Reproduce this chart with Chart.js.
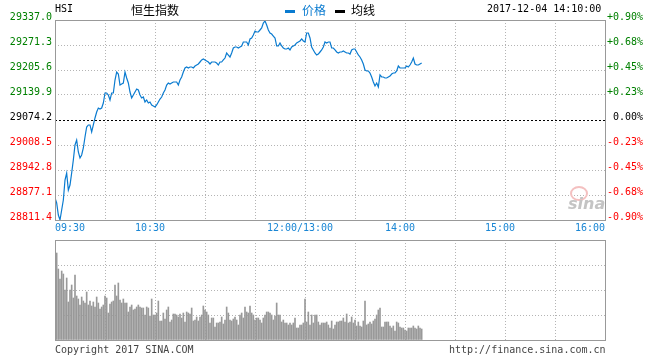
<!DOCTYPE html>
<html>
<head>
<meta charset="utf-8">
<script src="https://cdn.jsdelivr.net/npm/chart.js@4.4.1/dist/chart.umd.min.js"></script>
<style>
body{margin:0;background:#fff;}
#box{position:relative;width:660px;height:360px;overflow:hidden;font-family:"DejaVu Sans Mono",monospace;font-size:10px;color:#000;}
.t{position:absolute;white-space:nowrap;line-height:12px;}
.cn{font-family:"Noto Sans CJK SC",sans-serif;font-size:12px;line-height:14px;}
canvas{position:absolute;left:0;}
</style>
</head>
<body>
<div id="box">
  <canvas id="chart1" width="660" height="240" style="top:0"></canvas>
  <canvas id="chart2" width="660" height="130" style="top:230px"></canvas>

  <div class="t" style="left:55px;top:3px">HSI</div>
  <div class="t cn" style="left:131px;top:3px">恒生指数</div>
  <div style="position:absolute;left:285px;top:10px;width:10px;height:3px;background:#0a7bd0"></div>
  <div class="t cn" style="left:302px;top:3px;color:#0a7bd0">价格</div>
  <div style="position:absolute;left:335px;top:10px;width:10px;height:3px;background:#000"></div>
  <div class="t cn" style="left:351px;top:3px">均线</div>
  <div class="t" style="left:487px;top:3px">2017-12-04 14:10:00</div>

  <div class="t" style="left:570px;top:186px;width:14px;height:11px;border:2px solid #f4c0c0;border-radius:50%;"></div>
  <div class="t" style="left:568px;top:196px;font:italic bold 16px 'DejaVu Sans',sans-serif;color:#c4c4c4;line-height:16px">sina</div>

  <div class="t" style="left:55px;top:344px;color:#444">Copyright 2017 SINA.COM</div>
  <div class="t" style="left:449px;top:344px;color:#444">http://finance.sina.com.cn</div>
</div>

<script>
// 昨收
const prevClose = 29074.2;

// 分钟序号: 0 = 09:30, 150 = 12:00/13:00, 330 = 16:00
const xTickMinutes = [0, 60, 150, 210, 270, 330];
const xTickLabels = ["09:30", "10:30", "12:00/13:00", "14:00", "15:00", "16:00"];

const priceTicks = [28811.4, 28877.1, 28942.8, 29008.5, 29074.2, 29139.9, 29205.6, 29271.3, 29337.0];

// 每分钟价格 09:30 - 14:10
const prices = [
28869.2,28856.1,28824.5,28811.4,28837.7,28863.9,28916.5,28934.9,28890.2,28903.4,
28934.9,28969.1,29008.5,29021.6,28990.1,28974.3,28982.2,29000.6,29029.5,29055.8,
29061.1,29061.1,29042.7,29061.1,29079.5,29095.2,29105.7,29103.1,29105.7,29118.9,
29145.2,29145.2,29139.9,29126.8,29145.2,29145.2,29179.3,29200.3,29195.1,29166.2,
29168.8,29171.4,29200.3,29184.6,29171.4,29147.8,29132.0,29139.9,29147.8,29155.7,
29153.0,29139.9,29132.0,29134.6,29121.5,29126.8,29118.9,29121.5,29113.6,29111.0,
29108.4,29113.6,29121.5,29129.4,29134.6,29145.2,29153.0,29166.2,29171.4,29168.8,
29171.4,29174.1,29174.1,29174.1,29166.2,29179.3,29187.2,29200.3,29210.9,29213.5,
29210.9,29213.5,29213.5,29210.9,29216.1,29218.7,29221.4,29226.6,29231.9,29234.5,
29231.9,29229.3,29226.6,29221.4,29226.6,29226.6,29226.6,29224.0,29218.7,29226.6,
29226.6,29231.9,29237.1,29250.3,29245.0,29239.8,29250.3,29263.4,29266.0,29266.0,
29263.4,29266.0,29268.7,29279.2,29279.2,29279.2,29271.3,29287.1,29289.7,29297.6,
29308.1,29305.5,29305.5,29310.7,29316.0,29329.1,29334.4,29323.9,29310.7,29302.8,
29300.2,29294.9,29289.7,29268.7,29268.7,29276.6,29268.7,29263.4,29260.8,29260.8,
29263.4,29258.2,29266.0,29268.7,29271.3,29276.6,29279.2,29281.8,29287.1,29281.8,
29279.2,29302.8,29302.8,29289.7,29266.0,29258.2,29250.3,29245.0,29247.6,29252.9,
29258.2,29266.0,29279.2,29276.6,29279.2,29279.2,29263.4,29263.4,29258.2,29252.9,
29250.3,29252.9,29252.9,29255.5,29252.9,29250.3,29250.3,29247.6,29258.2,29260.8,
29260.8,29252.9,29245.0,29239.8,29231.9,29221.4,29205.6,29203.0,29203.0,29197.7,
29187.2,29174.1,29163.6,29171.4,29160.9,29192.5,29187.2,29187.2,29184.6,29184.6,
29187.2,29189.8,29195.1,29197.7,29197.7,29203.0,29216.1,29210.9,29210.9,29210.9,
29210.9,29216.1,29213.5,29218.7,29226.6,29237.1,29221.4,29218.7,29218.7,29221.4,
29224.0
];

// 每分钟成交量 (相对值, 图高 = 100)
const volumes = [
80,87,71,61,69,66,50,62,38,50,55,42,65,44,41,35,43,39,37,48,
35,39,34,38,33,43,37,31,33,35,44,42,27,36,38,39,55,44,57,40,
37,41,37,37,28,33,35,30,31,33,35,33,32,32,25,33,32,24,41,25,
25,27,39,19,19,27,21,30,33,18,20,26,26,25,23,26,22,27,18,28,
27,26,32,19,20,23,19,23,25,34,30,28,25,17,22,22,13,17,17,18,
23,16,20,33,27,20,19,21,23,20,15,25,27,22,33,28,27,34,27,25,
20,22,22,20,17,22,25,28,28,27,25,20,24,37,25,25,18,20,17,17,
15,17,15,17,22,12,12,15,15,17,41,18,28,15,25,17,25,25,18,15,
17,17,17,18,15,12,19,11,15,18,18,19,19,22,18,26,17,18,23,17,
20,14,18,14,13,19,39,15,16,18,16,19,21,25,30,32,13,13,18,18,
18,14,12,14,9,18,17,13,12,12,10,9,12,12,12,14,12,11,14,12,
11
];

const monoFont = {family: "DejaVu Sans Mono", size: 10};

function isPrevClose(v){
    return Math.abs(v - prevClose) < 0.05;
}

function tickColor(v){
    if(isPrevClose(v)) return "#000";
    return v > prevClose ? "#008000" : "#ff0000";
}

function pctLabel(v){
    let p = (v - prevClose) / prevClose * 100;
    if(isPrevClose(v)) return " 0.00%";
    return (p > 0 ? "+" : "") + p.toFixed(2) + "%";
}

function halfHourTicks(scale){
    const t = [];
    for(let m = 0; m <= 330; m += 30) t.push({value: m});
    scale.ticks = t;
}

// 外框
const frame = {
    id: "frame",
    afterDraw(chart){
        const a = chart.chartArea, ctx = chart.ctx;
        ctx.save();
        ctx.strokeStyle = "#999";
        ctx.lineWidth = 1;
        ctx.strokeRect(Math.round(a.left) + 0.5, Math.round(a.top) + 0.5,
            Math.round(a.right - a.left), Math.round(a.bottom - a.top));
        ctx.restore();
    }
};

// 时间标签
const timeLabels = {
    id: "timeLabels",
    afterDraw(chart){
        const ctx = chart.ctx, sx = chart.scales.x;
        const y = chart.chartArea.bottom + 8;
        ctx.save();
        ctx.font = "10px 'DejaVu Sans Mono'";
        ctx.fillStyle = "#1a86d4";
        ctx.textBaseline = "middle";
        xTickMinutes.forEach((m, i)=>{
            let px = sx.getPixelForValue(m);
            if(i == 0){
                ctx.textAlign = "left";
            } else if(i == xTickMinutes.length - 1){
                ctx.textAlign = "right";
            } else {
                ctx.textAlign = "center";
                px -= 5;
            }
            ctx.fillText(xTickLabels[i], px, y);
        });
        ctx.restore();
    }
};

// ---------- 分时线 ----------

new Chart(document.getElementById("chart1"), {
    type: "line",
    data: {
        datasets: [{
            data: prices.map((p, i)=>({x: i, y: p})),
            borderColor: "#0a7bd0",
            borderWidth: 1.2,
            pointRadius: 0,
            tension: 0,
            yAxisID: "y"
        }]
    },
    options: {
        responsive: false,
        animation: false,
        layout: {padding: {top: 20, bottom: 20}},
        plugins: {legend: {display: false}, tooltip: {enabled: false}},
        scales: {
            x: {
                type: "linear", min: 0, max: 330,
                afterBuildTicks: halfHourTicks,
                ticks: {display: false, maxTicksLimit: 20},
                grid: {color: "#b4b4b4", drawTicks: false},
                border: {display: false, dash: [1, 2]},
                afterFit: s=>{ s.height = 0; }
            },
            y: {
                position: "left",
                min: priceTicks[0], max: priceTicks[priceTicks.length - 1],
                afterBuildTicks: s=>{ s.ticks = priceTicks.map(v=>({value: v})); },
                ticks: {
                    font: monoFont,
                    color: c=>tickColor(c.tick.value),
                    padding: 3,
                    labelOffset: -3,
                    callback: v=>v.toFixed(1)
                },
                grid: {
                    drawTicks: false,
                    color: c=>(c.tick && isPrevClose(c.tick.value)) ? "#000" : "#b4b4b4"
                },
                border: {
                    display: false,
                    dash: c=>(c.tick && isPrevClose(c.tick.value)) ? [2, 2] : [1, 2]
                },
                afterFit: s=>{ s.width = 55; }
            },
            y2: {
                position: "right",
                min: priceTicks[0], max: priceTicks[priceTicks.length - 1],
                afterBuildTicks: s=>{ s.ticks = priceTicks.map(v=>({value: v})); },
                ticks: {
                    font: monoFont,
                    color: c=>tickColor(c.tick.value),
                    padding: 2,
                    labelOffset: -3,
                    callback: v=>pctLabel(v)
                },
                grid: {display: false, drawTicks: false},
                border: {display: false},
                afterFit: s=>{ s.width = 55; }
            }
        }
    },
    plugins: [frame, timeLabels]
});

// ---------- 成交量 ----------

new Chart(document.getElementById("chart2"), {
    type: "bar",
    data: {
        datasets: [{
            data: volumes.map((v, i)=>({x: i, y: v})),
            backgroundColor: "#999",
            barThickness: 1
        }]
    },
    options: {
        responsive: false,
        animation: false,
        layout: {padding: {top: 10, bottom: 20, right: 55}},
        plugins: {legend: {display: false}, tooltip: {enabled: false}},
        scales: {
            x: {
                type: "linear", min: 0, max: 330, offset: false,
                afterBuildTicks: halfHourTicks,
                ticks: {display: false, maxTicksLimit: 20},
                grid: {color: "#b4b4b4", drawTicks: false, offset: false},
                border: {display: false, dash: [1, 2]},
                afterFit: s=>{ s.height = 0; }
            },
            y: {
                min: 0, max: 100,
                ticks: {display: false, stepSize: 25},
                grid: {color: "#b4b4b4", drawTicks: false},
                border: {display: false, dash: [1, 2]},
                afterFit: s=>{ s.width = 55; }
            }
        }
    },
    plugins: [frame]
});
</script>
</body>
</html>
